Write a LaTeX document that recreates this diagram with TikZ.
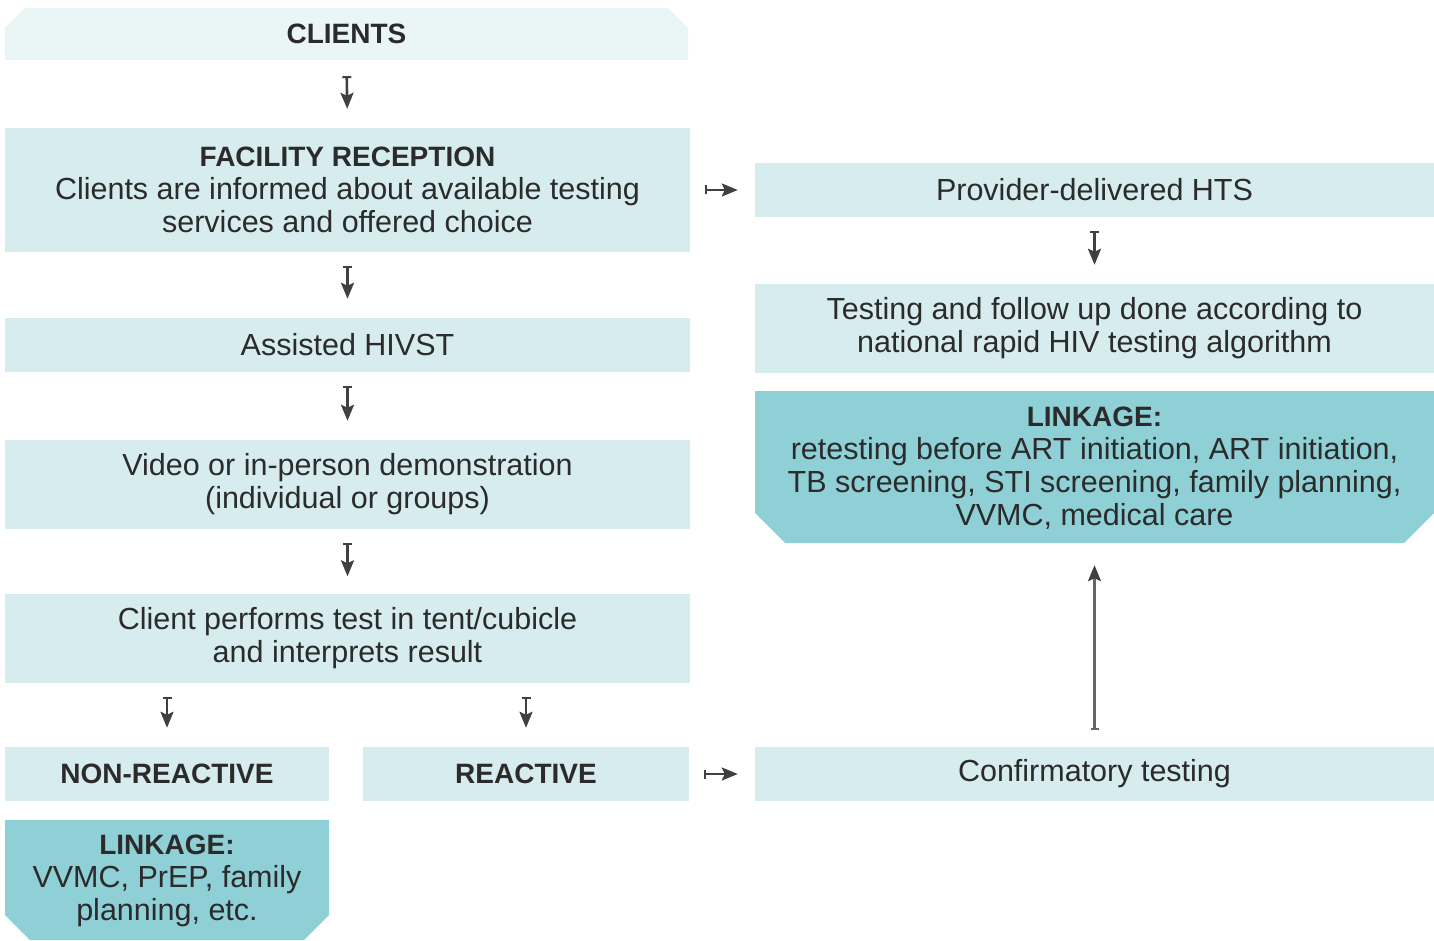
\documentclass[tikz,border=0pt]{standalone}
\usepackage{fontspec}
\setmainfont{Liberation Sans}
\usetikzlibrary{arrows.meta}
\definecolor{paleC}{HTML}{EAF5F6}
\definecolor{lightC}{HTML}{D7ECEE}
\definecolor{darkC}{HTML}{8FCFD6}
\definecolor{txtC}{HTML}{2B2B2B}
\definecolor{arrC}{HTML}{404040}
\newcommand{\regf}{\fontsize{30.5}{33}\selectfont}
\newcommand{\bldf}{\fontsize{28}{33}\selectfont\bfseries}
\tikzset{
  x=1pt, y=-1pt,
  boxlight/.style={fill=lightC, inner sep=0pt, align=center, text=txtC, font=\regf},
  boxtext/.style={inner sep=0pt, align=center, text=txtC, font=\regf},
  shortarr/.style={draw=arrC, line width=2.6pt, {Bar[width=9pt,line width=2pt]}-{Stealth[length=16pt,width=13pt,inset=3pt]}},
  longarr/.style={draw=gray!80!black, line width=2.4pt, {Bar[width=8pt,line width=1.8pt]}-{Stealth[length=16pt,width=13pt,inset=3pt,color=arrC]}},
}
\begin{document}
\begin{tikzpicture}
\useasboundingbox (0,0) rectangle (1434,941);
% CLIENTS (chamfered top)
\fill[paleC] (5,60) -- (5,28) -- (25,8) -- (668,8) -- (688,28) -- (688,60) -- cycle;
\node[boxtext, minimum width=683pt, minimum height=52pt, font=\bldf] (clients) at (346.5,34) {CLIENTS};
% left column
\node[boxlight, minimum width=685pt, minimum height=124pt] (facility) at (347.5,190)
  {{\bldf FACILITY RECEPTION}\\Clients are informed about available testing\\services and offered choice};
\node[boxlight, minimum width=685pt, minimum height=54pt] (hivst) at (347.5,345) {Assisted HIVST};
\node[boxlight, minimum width=685pt, minimum height=89pt] (video) at (347.5,484.5)
  {Video or in-person demonstration\\(individual or groups)};
\node[boxlight, minimum width=685pt, minimum height=89pt] (client) at (347.5,638)
  {Client performs test in tent/cubicle\\and interprets result};
\node[boxlight, minimum width=324pt, minimum height=54pt, font=\bldf] (nonreact) at (167,774) {NON-REACTIVE};
\node[boxlight, minimum width=326pt, minimum height=54pt, font=\bldf] (react) at (526,774) {REACTIVE};
% left linkage (chamfered bottom)
\fill[darkC] (5,820) -- (329,820) -- (329,915) -- (304,940) -- (30,940) -- (5,915) -- cycle;
\node[boxtext, minimum width=324pt, minimum height=120pt] (link1) at (167,881)
  {{\bldf LINKAGE:}\\VVMC, PrEP, family\\planning, etc.};
% right column
\node[boxlight, minimum width=679pt, minimum height=54pt] (provider) at (1094.5,190) {Provider-delivered HTS};
\node[boxlight, minimum width=679pt, minimum height=89pt] (testing) at (1094.5,328.5)
  {Testing and follow up done according to\\national rapid HIV testing algorithm};
\fill[darkC] (755,391) -- (1434,391) -- (1434,513) -- (1404,543) -- (785,543) -- (755,513) -- cycle;
\node[boxtext, minimum width=679pt, minimum height=152pt] (link2) at (1094.5,468)
  {{\bldf LINKAGE:}\\retesting before ART initiation, ART initiation,\\TB screening, STI screening, family planning,\\VVMC, medical care};
\node[boxlight, minimum width=679pt, minimum height=54pt] (conf) at (1094.5,774) {Confirmatory testing};
% connectors
\draw[shortarr, shorten <=16pt, shorten >=19pt] (clients.south) -- (facility.north);
\draw[shortarr, shorten <=14pt, shorten >=19pt] (facility.south) -- (hivst.north);
\draw[shortarr, shorten <=14pt, shorten >=19pt] (hivst.south) -- (video.north);
\draw[shortarr, shorten <=14pt, shorten >=17pt] (video.south) -- (client.north);
\draw[shortarr, shorten <=14pt, shorten >=19pt] (client.south -| nonreact.north) -- (nonreact.north);
\draw[shortarr, shorten <=14pt, shorten >=19pt] (client.south -| react.north) -- (react.north);
\draw[shortarr, shorten <=15pt, shorten >=17pt] (facility.east) -- (provider.west);
\draw[shortarr, shorten <=15pt, shorten >=17pt] (react.east) -- (conf.west);
\draw[shortarr, shorten <=14pt, shorten >=19pt] (provider.south) -- (testing.north);
\draw[longarr, shorten <=17pt, shorten >=21pt] (conf.north) -- (link2.south);
\end{tikzpicture}
\end{document}
